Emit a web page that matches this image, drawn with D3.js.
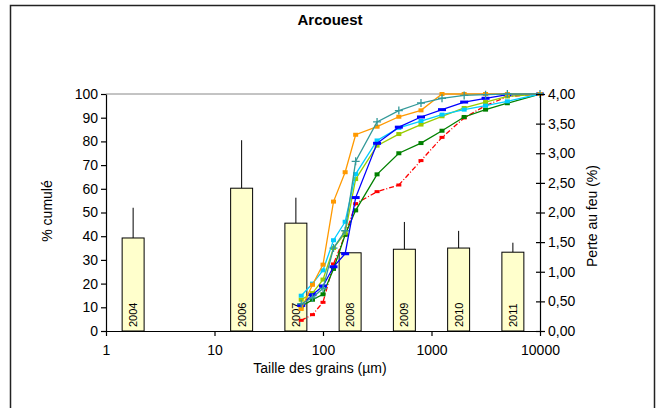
<!DOCTYPE html>
<html>
<head>
<meta charset="utf-8">
<script src="https://cdn.jsdelivr.net/npm/d3@7"></script>
<style>
  body { margin: 0; background: #fff; }
  svg { font-family: "Liberation Sans", Arial, sans-serif; }
</style>
</head>
<body>
<div id="chart"></div>
<script>
// sieve sizes (µm)
var sizes = [63, 80, 100, 125, 160, 200, 315, 500, 800, 1250, 2000, 3150, 5000, 10000];

// cumulative % per campaign
var orangeVals = [9.3, 19.5, 28, 54.6, 67, 82.8, 86.2, 90.4, 93.1, 100, 100, 100, 100, 100];
var tealVals   = [11.5, 14, 18, 35, 42.3, 71.6, 88.2, 93, 96.2, 98.2, 99.4, 99.7, 100, 100];
var blueVals   = [10.8, 15.3, 19, 27.1, 32.6, 56.3, 79.2, 86, 90.3, 93.4, 96.6, 98.2, 99.7, 100];
var cyanVals   = [14.9, 20, 25.6, 38.3, 46.1, 66.2, 80.4, 85.7, 88.6, 91.3, 93.4, 95.1, 96.9, 100];
var limeVals   = [13.2, 16, 21.7, 35, 41.4, 64.1, 78.2, 83.1, 87.1, 90.6, 94.1, 96.6, 99, 100];
var greenVals  = [10.4, 13.2, 15.5, 26.2, 40.6, 50.9, 66.1, 75, 79.3, 84.5, 90.3, 93.4, 96.1, 100];
var redVals    = [4.5, 6.9, 12.1, 28.3, 40.5, 53.7, 58.8, 61.6, 71.9, 81.7, 89.9, 95.1, 98.9, 100];

// loss on ignition (%) per year, with std dev
var years  = ["2004", "2005", "2006", "2007", "2008", "2009", "2010", "2011"];
var losses = [1.57, null, 2.41, 1.82, 1.32, 1.38, 1.40, 1.33];
var lossSd = [0.51, null, 0.81, 0.43, 0, 0.46, 0.29, 0.16];

var xTicks = [1, 10, 100, 1000, 10000];

var series = [
  {vals: redVals,   color: "#FF0000", marker: "dash", dash: "5,2,1,2"},
  {vals: greenVals, color: "#008000", marker: "sq"},
  {vals: limeVals,  color: "#99CC00", marker: "sq"},
  {vals: cyanVals,  color: "#00CCFF", marker: "sq"},
  {vals: blueVals,  color: "#0000FF", marker: "bar"},
  {vals: orangeVals,color: "#FF9900", marker: "sq"},
  {vals: tealVals,  color: "#339999", marker: "plus"}
];

const w = 657, h = 408;
const plotL = 106, plotR = 540, plotT = 94, plotB = 331;

const svg = d3.select("#chart").append("svg")
  .attr("width", w).attr("height", h);

// outer frame
svg.append("rect")
  .attr("x", 10.5).attr("y", 5.5)
  .attr("width", 644).attr("height", 410)
  .attr("fill", "none").attr("stroke", "#222").attr("stroke-width", 1.5);

const xScale = d3.scaleLog().domain([1, 10000]).range([plotL, plotR]);
const yScale = d3.scaleLinear().domain([0, 100]).range([plotB, plotT]);
const y2Scale = d3.scaleLinear().domain([0, 4]).range([plotB, plotT]);
const band = d3.scaleBand().domain(years).range([plotL, plotR])
  .paddingInner(0.595).paddingOuter(0.2975);

// top line
svg.append("line")
  .attr("x1", plotL).attr("x2", plotR)
  .attr("y1", yScale(100)).attr("y2", yScale(100))
  .attr("stroke", "#888").attr("stroke-width", 1);

// bars
const barData = years.map(function(y, i) { return {year: y, v: losses[i], sd: lossSd[i]}; })
  .filter(function(d) { return d.v != null; });

svg.selectAll("line.err")
  .data(barData.filter(function(d) { return d.sd > 0; }))
  .enter().append("line")
  .attr("class", "err")
  .attr("x1", function(d) { return band(d.year) + band.bandwidth() / 2; })
  .attr("x2", function(d) { return band(d.year) + band.bandwidth() / 2; })
  .attr("y1", function(d) { return y2Scale(d.v); })
  .attr("y2", function(d) { return y2Scale(d.v + d.sd); })
  .attr("stroke", "#000").attr("stroke-width", 1);

svg.selectAll("rect.bar")
  .data(barData)
  .enter().append("rect")
  .attr("class", "bar")
  .attr("x", function(d) { return band(d.year); })
  .attr("y", function(d) { return y2Scale(d.v); })
  .attr("width", band.bandwidth())
  .attr("height", function(d) { return plotB - y2Scale(d.v); })
  .attr("fill", "#FFFFCC").attr("stroke", "#000").attr("stroke-width", 1);

svg.selectAll("text.yr")
  .data(barData)
  .enter().append("text")
  .attr("class", "yr")
  .attr("transform", function(d) {
    return "translate(" + (band(d.year) + band.bandwidth() / 2 + 4) + "," + (plotB - 4) + ") rotate(-90)";
  })
  .style("font-size", "11px")
  .text(function(d) { return d.year; });

// curves
const line = d3.line()
  .x(function(d) { return xScale(d[0]); })
  .y(function(d) { return yScale(d[1]); });

series.forEach(function(s) {
  const pts = sizes.map(function(sz, i) { return [sz, s.vals[i]]; });
  svg.append("path")
    .datum(pts)
    .attr("d", line)
    .attr("fill", "none")
    .attr("stroke", s.color)
    .attr("stroke-width", 1.3)
    .attr("stroke-dasharray", s.dash || null);

  const g = svg.append("g");
  pts.forEach(function(p) {
    const cx = xScale(p[0]), cy = yScale(p[1]);
    if (s.marker == "plus") {
      g.append("path")
        .attr("d", "M" + (cx - 4) + "," + cy + "h8M" + cx + "," + (cy - 4) + "v8")
        .attr("stroke", s.color).attr("stroke-width", 1.3);
    } else if (s.marker == "bar") {
      g.append("rect").attr("x", cx - 4).attr("y", cy - 1.5)
        .attr("width", 8).attr("height", 3).attr("fill", s.color);
    } else if (s.marker == "dash") {
      g.append("rect").attr("x", cx - 2.5).attr("y", cy - 1.5)
        .attr("width", 5).attr("height", 3).attr("fill", s.color);
    } else {
      g.append("rect").attr("x", cx - 2.5).attr("y", cy - 2)
        .attr("width", 5).attr("height", 4).attr("fill", s.color);
    }
  });
});

// axes
const yAxis = d3.axisLeft(yScale).tickValues(d3.range(0, 101, 10)).tickSize(5).tickSizeOuter(0);
const gy = svg.append("g").attr("transform", "translate(" + plotL + ",0)").call(yAxis);

const y2Axis = d3.axisRight(y2Scale).tickValues(d3.range(0, 4.01, 0.5))
  .tickFormat(function(d) { return d3.format(".2f")(d).replace(".", ","); })
  .tickSize(5).tickSizeOuter(0);
const gy2 = svg.append("g").attr("transform", "translate(" + plotR + ",0)").call(y2Axis);
gy2.selectAll(".tick line").attr("x1", -4);

const xAxis = d3.axisBottom(xScale).tickValues(xTicks)
  .tickFormat(d3.format("d")).tickSize(5).tickSizeOuter(0);
const gx = svg.append("g").attr("transform", "translate(0," + plotB + ")").call(xAxis);

[gy, gy2, gx].forEach(function(g) {
  g.selectAll("text").style("font-size", "14px").attr("fill", "#000")
    .style("font-family", "'Liberation Sans', Arial, sans-serif");
  g.selectAll("line, path").attr("stroke", "#000").attr("stroke-width", 1.2);
});
gx.selectAll("text").attr("dy", "1.15em");

// titles
svg.append("text")
  .attr("x", 330).attr("y", 25)
  .style("font-size", "15px").style("font-weight", "bold")
  .style("text-anchor", "middle")
  .text("Arcouest");

svg.append("text")
  .attr("transform", "translate(52,211) rotate(-90)")
  .style("font-size", "14px").style("text-anchor", "middle")
  .text("% cumulé");

svg.append("text")
  .attr("transform", "translate(597,216) rotate(-90)")
  .style("font-size", "14px").style("text-anchor", "middle")
  .text("Perte au feu (%)");

svg.append("text")
  .attr("x", 320).attr("y", 373)
  .style("font-size", "14px").style("text-anchor", "middle")
  .text("Taille des grains (µm)");
</script>
</body>
</html>
